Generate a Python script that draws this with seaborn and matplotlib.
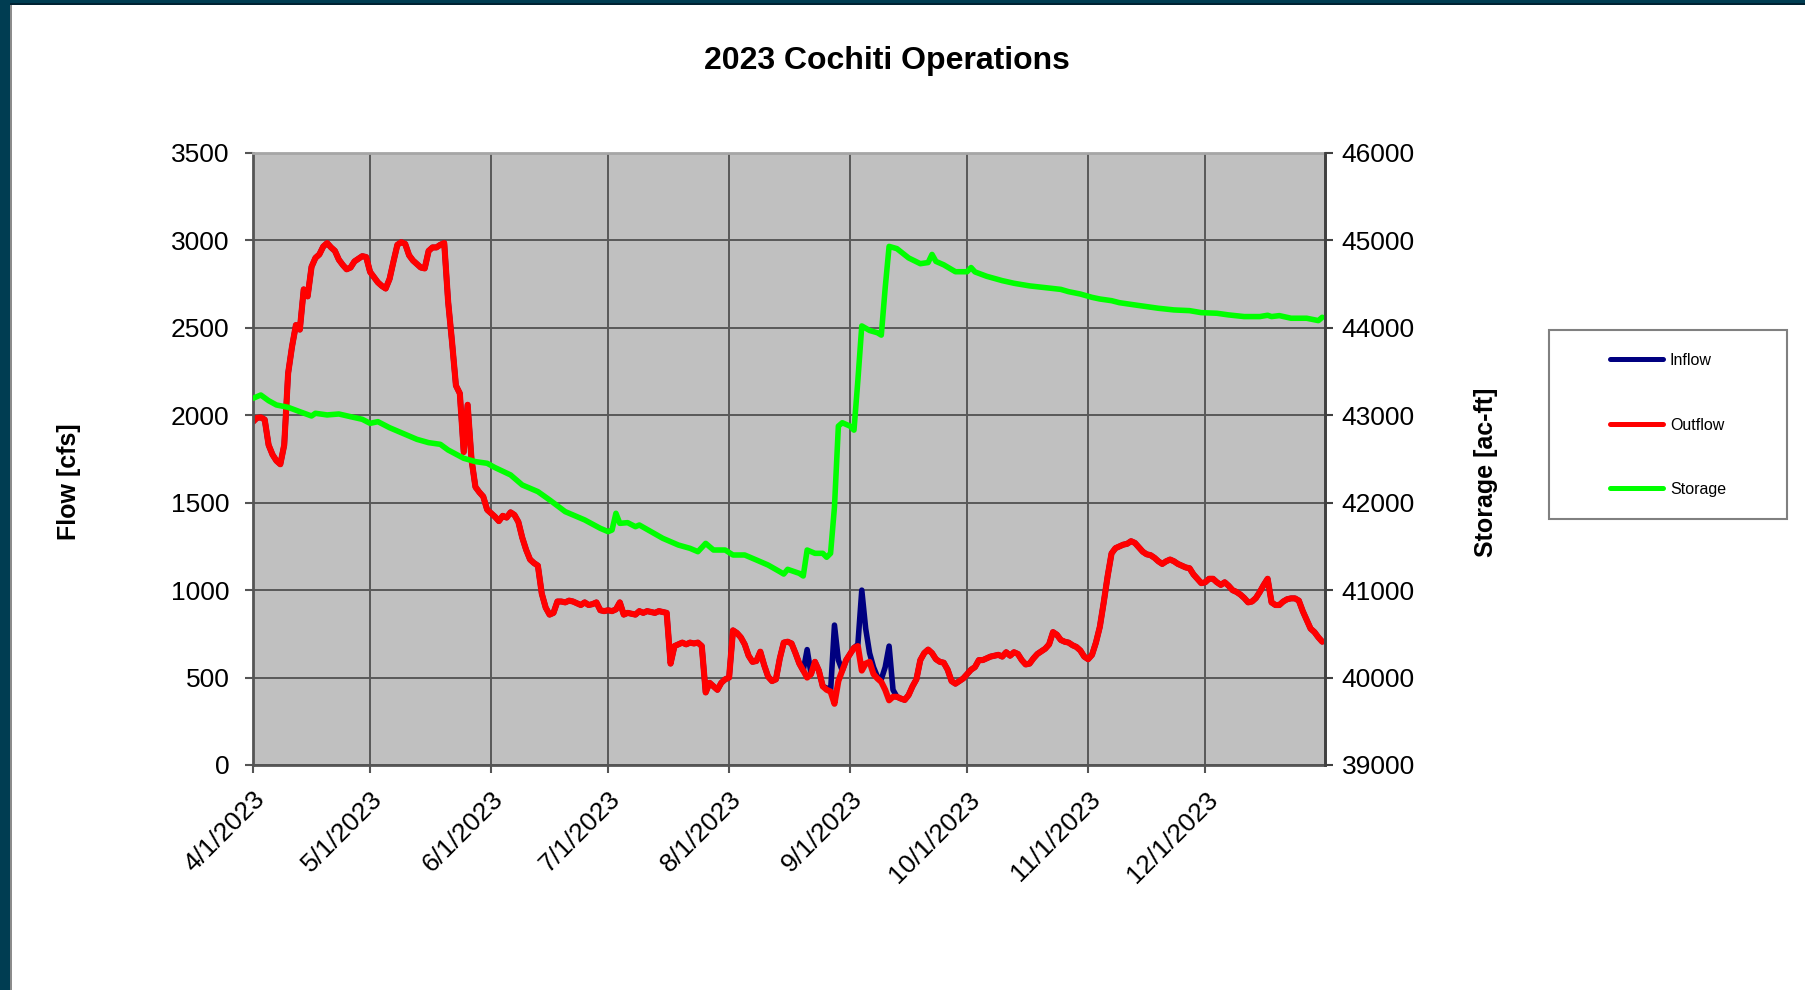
import numpy as np
import pandas as pd
import matplotlib
matplotlib.use("Agg")
import matplotlib.pyplot as plt
import matplotlib.transforms as mtransforms
from matplotlib.patches import Rectangle
from matplotlib.lines import Line2D
import seaborn as sns

# ---------------- data ----------------
start_date = "2023-04-01"

# daily outflow [cfs], 4/1/2023 .. 12/31/2023
outflow_cfs = [
    1963, 1985, 1988, 1975, 1830, 1775, 1740, 1720, 1830, 2240,
    2393, 2516, 2490, 2720, 2680, 2849, 2900, 2920, 2965, 2985,
    2960, 2940, 2890, 2860, 2835, 2845, 2880, 2895, 2910, 2905,
    2820, 2790, 2760, 2740, 2725, 2780, 2880, 2975, 2990, 2980,
    2915, 2885, 2865, 2845, 2840, 2940, 2960, 2960, 2975, 2985,
    2650, 2420, 2170, 2125, 1790, 2060, 1745, 1590, 1560, 1535,
    1460, 1440, 1420, 1395, 1425, 1415, 1445, 1430, 1390, 1300,
    1230, 1175, 1155, 1140, 980, 900, 860, 870, 935, 935,
    930, 940, 935, 925, 915, 930, 915, 920, 930, 885,
    880, 885, 880, 890, 930, 860, 870, 865, 860, 880,
    870, 880, 875, 870, 880, 875, 870, 580, 680, 690,
    700, 690, 700, 695, 700, 680, 415, 470, 450, 430,
    470, 490, 500, 770, 755, 730, 690, 625, 590, 595,
    648, 570, 505, 480, 490, 610, 700, 705, 695, 640,
    580, 540, 500, 520, 590, 540, 450, 430, 420, 350,
    480, 540, 600, 635, 670, 680, 540, 580, 590, 520,
    495, 475, 430, 370, 390, 390, 380, 372, 400, 450,
    490, 600, 640, 660, 640, 605, 590, 585, 545, 480,
    465, 480, 495, 520, 545, 560, 600, 600, 610, 620,
    625, 630, 620, 645, 625, 645, 635, 600, 575, 580,
    610, 635, 650, 665, 690, 760, 745, 715, 705, 700,
    685, 675, 655, 620, 605, 630, 700, 790, 930, 1080,
    1210, 1240, 1250, 1260, 1265, 1280, 1270, 1245, 1220, 1205,
    1200, 1185, 1165, 1150, 1165, 1175, 1165, 1150, 1140, 1130,
    1125, 1090, 1065, 1040, 1045, 1065, 1065, 1045, 1030, 1045,
    1025, 1000, 990, 975, 955, 930, 935, 955, 990, 1030,
    1065, 930, 915, 915, 935, 948, 953, 953, 940, 880,
    830, 780, 760, 730, 705,
]

# inflow equals outflow except on these days (day offset from 4/1/2023)
inflow_diff_days = [142, 147, 148, 149, 150, 151, 154, 155, 156, 157, 158,
                    159, 160, 161, 162, 163, 164, 165]
inflow_diff_cfs = [660, 440, 420, 800, 600, 540, 670, 690, 1000, 780, 640,
                   560, 505, 490, 560, 680, 430, 390]

# storage [ac-ft]
storage_days = [0, 2, 4, 6, 9, 12, 15, 16, 19, 22, 25, 28, 30, 32, 35, 38, 42,
                45, 48, 50, 54, 57, 60, 62, 66, 69, 73, 76, 80, 85, 89, 91, 92,
                93, 94, 96, 98, 99, 102, 105, 109, 112, 114, 116, 118, 121, 123,
                126, 129, 132, 135, 136, 137, 140, 141, 142, 144, 146, 147, 148,
                149, 150, 151, 153, 154, 155, 156, 158, 160, 161, 162, 163, 165,
                168, 171, 173, 174, 175, 177, 180, 183, 184, 185, 188, 192, 195,
                199, 204, 207, 209, 212, 215, 217, 220, 222, 226, 229, 232, 236,
                240, 243, 247, 250, 254, 258, 260, 261, 263, 266, 270, 273, 274]
storage_acft = [43194, 43232, 43167, 43118, 43091, 43041, 42992, 43023, 43004,
                43015, 42984, 42954, 42908, 42927, 42858, 42801, 42725, 42687,
                42668, 42603, 42508, 42470, 42451, 42402, 42318, 42203, 42127,
                42032, 41898, 41803, 41707, 41669, 41688, 41879, 41764, 41772,
                41726, 41745, 41669, 41593, 41516, 41478, 41440, 41535, 41459,
                41459, 41402, 41402, 41345, 41287, 41211, 41184, 41238, 41192,
                41162, 41459, 41421, 41421, 41376, 41421, 41950, 42876, 42915,
                42876, 42830, 43400, 44022, 43970, 43944, 43917, 44457, 44932,
                44906, 44800, 44734, 44747, 44840, 44760, 44721, 44642, 44642,
                44690, 44640, 44590, 44540, 44510, 44480, 44455, 44440, 44414,
                44387, 44349, 44330, 44311, 44288, 44262, 44243, 44224, 44205,
                44197, 44174, 44167, 44148, 44129, 44129, 44144, 44129, 44140,
                44110, 44110, 44083, 44121]

month_ticks = ["2023-04-01", "2023-05-01", "2023-06-01", "2023-07-01",
               "2023-08-01", "2023-09-01", "2023-10-01", "2023-11-01",
               "2023-12-01"]
month_labels = ["4/1/2023", "5/1/2023", "6/1/2023", "7/1/2023", "8/1/2023",
                "9/1/2023", "10/1/2023", "11/1/2023", "12/1/2023"]
flow_ticks = [0, 500, 1000, 1500, 2000, 2500, 3000, 3500]
storage_ticks = [39000, 40000, 41000, 42000, 43000, 44000, 45000, 46000]
series_names = ["Inflow", "Outflow", "Storage"]

# ---------------- build tables ----------------
t0 = pd.Timestamp(start_date)
flow_df = pd.DataFrame({"day": np.arange(len(outflow_cfs)), "Outflow": outflow_cfs})
flow_df["Inflow"] = flow_df["Outflow"]
flow_df.loc[flow_df["day"].isin(inflow_diff_days), "Inflow"] = inflow_diff_cfs
flow_df["date"] = t0 + pd.to_timedelta(flow_df["day"], unit="D")
stor_df = pd.DataFrame({"date": t0 + pd.to_timedelta(storage_days, unit="D"),
                        "Storage": storage_acft})

# ---------------- style ----------------
sns.set_theme(style="white")
plt.rcParams["font.family"] = ["Liberation Sans", "DejaVu Sans"]
plt.rcParams["text.color"] = "black"

W, H = 1806, 990
fig = plt.figure(figsize=(W / 100, H / 100), dpi=100)
fig.patch.set_facecolor("white")

L, R, T, B = 253, 1325, 153, 765
ax = fig.add_axes([L / W, 1 - B / H, (R - L) / W, (B - T) / H])
ax.set_facecolor("#c0c0c0")
ax2 = ax.twinx()

C_IN, C_OUT, C_ST = "#000080", "#ff0000", "#00ff00"
kw = dict(solid_joinstyle="round", solid_capstyle="round")
sns.lineplot(data=flow_df, x="date", y="Inflow", ax=ax, color=C_IN,
             linewidth=4.0, legend=False, errorbar=None, **kw)
sns.lineplot(data=flow_df, x="date", y="Outflow", ax=ax, color=C_OUT,
             linewidth=4.4, legend=False, errorbar=None, **kw)
sns.lineplot(data=stor_df, x="date", y="Storage", ax=ax2, color=C_ST,
             linewidth=4.0, legend=False, errorbar=None, **kw)

ax.set_xlim(t0, t0 + pd.Timedelta(days=274.7))
ax.set_ylim(0, 3500)
ax2.set_ylim(39000, 46000)

ax.set_yticks(flow_ticks)
ax.set_yticklabels([str(v) for v in flow_ticks])
ax2.set_yticks(storage_ticks)
ax2.set_yticklabels([str(v) for v in storage_ticks])
ax.set_xticks(pd.to_datetime(month_ticks))
ax.set_xticklabels(month_labels, rotation=45, ha="right", rotation_mode="anchor")
shift = mtransforms.ScaledTranslation(-5 / 100, 0, fig.dpi_scale_trans)
for lab in ax.get_xticklabels():
    lab.set_transform(lab.get_transform() + shift)

ax.grid(True, color="#595959", linewidth=1.4)
ax.set_axisbelow(True)
ax2.grid(False)

ax.set_xlabel("")
ax.set_ylabel("")
ax2.set_ylabel("")

for name, sp in ax.spines.items():
    sp.set_visible(True)
    sp.set_color("#555555")
    sp.set_linewidth(2.0)
ax.spines["top"].set_color("#a6a6a6")
for name, sp in ax2.spines.items():
    sp.set_visible(name == "right")
ax2.spines["right"].set_color("#404040")
ax2.spines["right"].set_linewidth(2.0)

ax.tick_params(axis="y", which="both", direction="out", length=6, width=1.5,
               color="#555555", pad=11, labelsize=19, labelcolor="black",
               left=True)
ax.tick_params(axis="x", which="both", direction="out", length=6, width=1.5,
               color="#555555", pad=10, labelsize=19, labelcolor="black",
               bottom=True)
ax2.tick_params(axis="y", which="both", direction="out", length=6, width=1.5,
                color="#404040", pad=6, labelsize=19, labelcolor="black",
                right=True)

# titles / axis labels
fig.text(887 / W, 1 - 61 / H, "2023 Cochiti Operations", ha="center",
         va="center", fontsize=23, fontweight="bold", color="black")
fig.text(69 / W, 1 - 482 / H, "Flow [cfs]", ha="center", va="center",
         rotation=90, fontsize=18, fontweight="bold", color="black")
fig.text(1486 / W, 1 - 472 / H, "Storage [ac-ft]", ha="center", va="center",
         rotation=90, fontsize=18, fontweight="bold", color="black")

# legend box + legend
fig.patches.append(Rectangle((1549 / W, 1 - 519 / H), (1787 - 1549) / W,
                             (519 - 330) / H, transform=fig.transFigure,
                             facecolor="white", edgecolor="#808080",
                             linewidth=1.5, zorder=1))
handles = [Line2D([], [], color=c, linewidth=3.6) for c in (C_IN, C_OUT, C_ST)]
leg = fig.legend(handles, series_names, loc="upper left",
                 bbox_to_anchor=(1610 / W, 1 - 353 / H), frameon=False,
                 borderpad=0, borderaxespad=0, fontsize=11.5, handlelength=3.3,
                 handletextpad=0.45, labelspacing=3.1)
for t in leg.get_texts():
    t.set_color("black")

# window-like border (teal strips on the left and top)
fig.patches.append(Rectangle((0, 0), 10 / W, 1, transform=fig.transFigure,
                             facecolor="#003d52", edgecolor="none", zorder=5))
fig.patches.append(Rectangle((10 / W, 0), 2 / W, 1 - 5 / H, transform=fig.transFigure,
                             facecolor="#8c8c8c", edgecolor="none", zorder=5))
fig.patches.append(Rectangle((0, 1 - 3 / H), 1, 3 / H, transform=fig.transFigure,
                             facecolor="#003d52", edgecolor="none", zorder=5))
fig.patches.append(Rectangle((10 / W, 1 - 5 / H), 1, 2 / H, transform=fig.transFigure,
                             facecolor="#002232", edgecolor="none", zorder=5))

fig.savefig("out.png", dpi=100)
